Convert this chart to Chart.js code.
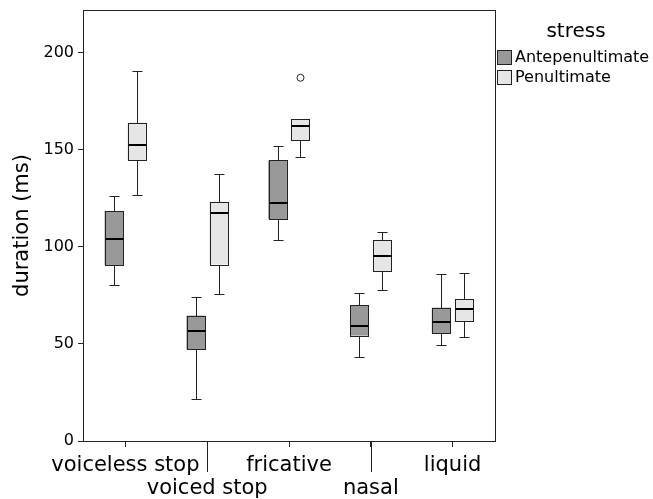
<!DOCTYPE html>
<html>
<head>
<meta charset="utf-8">
<script src="https://cdn.jsdelivr.net/npm/chart.js@4"></script>
<style>
  body { margin: 0; background: #fff; }
  #wrap { width: 653px; height: 499px; }
</style>
</head>
<body>
<div id="wrap"><canvas id="chart" width="653" height="499"></canvas></div>
<script>
const categories = ['voiceless stop', 'voiced stop', 'fricative', 'nasal', 'liquid'];
const seriesNames = ['Antepenultimate', 'Penultimate'];
const yTicks = [0, 50, 100, 150, 200];

// Antepenultimate
const anteMin    = [80.5, 21.6, 103.6, 43.3, 49.3];
const anteQ1     = [90.7, 47.3, 114.4, 54.3, 55.5];
const anteMedian = [104.0, 56.9, 122.8, 59.1, 61.2];
const anteQ3     = [118.5, 64.6, 144.5, 69.9, 68.7];
const anteMax    = [126.0, 74.2, 152.2, 76.3, 86.2];
const anteOutliers = [[], [], [], [], []];

// Penultimate
const penMin    = [126.6, 75.9, 146.5, 77.8, 53.8];
const penQ1     = [144.7, 90.9, 154.8, 87.6, 61.9];
const penMedian = [152.4, 117.3, 162.4, 95.5, 68.0];
const penQ3     = [164.0, 123.2, 165.6, 103.6, 73.0];
const penMax    = [190.4, 137.5, 165.6, 107.6, 86.4];
const penOutliers = [[], [], [187.1], [], []];

const FONT = "'DejaVu Sans', sans-serif";
const LINE = '#222';

const stats = [
    { min: anteMin, med: anteMedian, max: anteMax, out: anteOutliers },
    { min: penMin, med: penMedian, max: penMax, out: penOutliers }
];

// every 2nd label goes onto a second row, like the original
const tickLabels = categories.map((c, i) => i % 2 ? ['', c] : [c]);

const boxPlugin = {
    id: 'boxExtras',
    afterLayout(chart) {
        // categories sit a little inside the frame in the original
        const x = chart.scales.x;
        x._startPixel += 1.5;
        x._endPixel -= 1.5;
        x._length -= 3;
    },
    afterDatasetsDraw(chart) {
        const ctx = chart.ctx;
        const y = chart.scales.y;
        const x = chart.scales.x;
        const area = chart.chartArea;
        ctx.save();

        stats.forEach((s, di) => {
            const meta = chart.getDatasetMeta(di);
            const ds = chart.data.datasets[di];
            meta.data.forEach((el, i) => {
                const p = el.getProps(['x', 'width'], true);
                const cx = Math.round(p.x) + 0.5;
                const half = Math.round(p.width / 2);
                const cap = Math.round(p.width * 0.27);
                const q1 = Math.round(y.getPixelForValue(ds.data[i][0])) + 0.5;
                const q3 = Math.round(y.getPixelForValue(ds.data[i][1])) + 0.5;
                const lo = Math.round(y.getPixelForValue(s.min[i])) + 0.5;
                const hi = Math.round(y.getPixelForValue(s.max[i])) + 0.5;
                const md = Math.round(y.getPixelForValue(s.med[i]));

                ctx.strokeStyle = LINE;
                ctx.lineWidth = 1;
                ctx.beginPath();
                ctx.moveTo(cx, q3); ctx.lineTo(cx, hi);
                ctx.moveTo(cx - cap, hi); ctx.lineTo(cx + cap, hi);
                ctx.moveTo(cx, q1); ctx.lineTo(cx, lo);
                ctx.moveTo(cx - cap, lo); ctx.lineTo(cx + cap, lo);
                ctx.stroke();

                // crisp box outline
                ctx.strokeRect(cx - half, q3, half * 2, q1 - q3);

                ctx.strokeStyle = '#000';
                ctx.lineWidth = 2;
                ctx.beginPath();
                ctx.moveTo(cx - half, md); ctx.lineTo(cx + half, md);
                ctx.stroke();

                ctx.lineWidth = 1;
                ctx.strokeStyle = LINE;
                s.out[i].forEach(v => {
                    ctx.beginPath();
                    ctx.arc(cx, y.getPixelForValue(v), 3.5, 0, Math.PI * 2);
                    ctx.fillStyle = '#fff';
                    ctx.fill();
                    ctx.stroke();
                });
            });
        });

        // frame round the plot area
        ctx.strokeStyle = LINE;
        ctx.lineWidth = 1;
        ctx.strokeRect(Math.round(area.left) + 0.5, Math.round(area.top) + 0.5,
            Math.round(area.right - area.left), Math.round(area.bottom - area.top));

        // long ticks for the second-row labels
        ctx.beginPath();
        categories.forEach((c, i) => {
            if (i % 2 === 0) return;
            const tx = Math.round(x.getPixelForTick(i)) + 0.5;
            ctx.moveTo(tx, area.bottom);
            ctx.lineTo(tx, area.bottom + 31);
        });
        ctx.stroke();

        // legend
        ctx.fillStyle = '#000';
        ctx.font = '20px ' + FONT;
        ctx.textAlign = 'center';
        ctx.textBaseline = 'alphabetic';
        ctx.fillText('stress', 576, 37);
        ctx.font = '16px ' + FONT;
        ctx.textAlign = 'left';
        ctx.textBaseline = 'middle';
        chart.data.datasets.forEach((ds, di) => {
            const top = 50 + di * 20;
            ctx.fillStyle = ds.backgroundColor;
            ctx.fillRect(497, top, 15, 15);
            ctx.strokeStyle = LINE;
            ctx.strokeRect(497.5, top + 0.5, 14, 14);
            ctx.fillStyle = '#000';
            ctx.fillText(ds.label, 515, top + 8);
        });
        ctx.restore();
    }
};

new Chart(document.getElementById('chart'), {
    type: 'bar',
    data: {
        labels: tickLabels,
        datasets: [
            {
                label: seriesNames[0],
                data: anteQ1.map((v, i) => [v, anteQ3[i]]),
                backgroundColor: '#999999',
                borderWidth: 0,
                categoryPercentage: 0.56,
                barPercentage: 0.82
            },
            {
                label: seriesNames[1],
                data: penQ1.map((v, i) => [v, penQ3[i]]),
                backgroundColor: '#e6e6e6',
                borderWidth: 0,
                categoryPercentage: 0.56,
                barPercentage: 0.82
            }
        ]
    },
    options: {
        responsive: false,
        animation: false,
        layout: { padding: { left: 0, top: 10, right: 158, bottom: 0 } },
        plugins: {
            legend: { display: false },
            tooltip: { enabled: false }
        },
        scales: {
            x: {
                grid: { display: true, offset: false, drawOnChartArea: false, drawTicks: true, tickLength: 6, color: LINE },
                border: { display: true, color: LINE },
                ticks: {
                    color: '#000',
                    font: { family: FONT, size: 21, lineHeight: 1.1 },
                    padding: 7,
                    autoSkip: false,
                    maxRotation: 0
                },
                afterFit(scale) { scale.height = 58; }
            },
            y: {
                min: 0,
                max: 222,
                grid: { display: true, drawOnChartArea: false, drawTicks: true, tickLength: 5, color: LINE },
                border: { display: true, color: LINE },
                ticks: {
                    color: '#000',
                    font: { family: FONT, size: 16 },
                    padding: 4
                },
                afterBuildTicks(scale) { scale.ticks = yTicks.map(v => ({ value: v })); },
                title: {
                    display: true,
                    text: 'duration (ms)',
                    color: '#000',
                    font: { family: FONT, size: 21 },
                    padding: { top: 10, bottom: 0 }
                },
                afterFit(scale) {
                    scale.width = 83;
                    scale.paddingTop = 0;
                    scale.paddingBottom = 0;
                }
            }
        }
    },
    plugins: [boxPlugin]
});
</script>
</body>
</html>
